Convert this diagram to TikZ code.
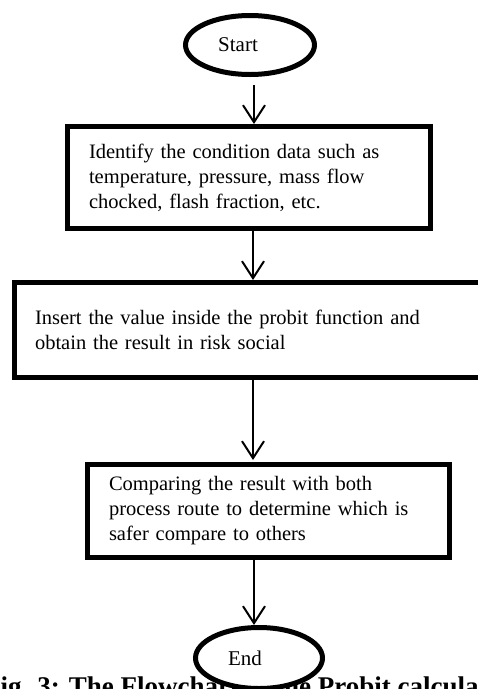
\documentclass[tikz,border=0pt]{standalone}
\usepackage{fontspec}
\setmainfont{Liberation Serif}
\usetikzlibrary{arrows.meta,shapes.geometric}
\begin{document}
\begin{tikzpicture}[x=1pt,y=-1pt,
 term/.style={ellipse, draw, line width=5pt, inner sep=0pt, fill=white, font=\fontsize{21}{25}\selectfont},
 procbox/.style={rectangle, draw, line width=5pt, align=left, inner ysep=0pt, font=\fontsize{20.5}{25}\selectfont},
 flow/.style={line width=2pt, -{Straight Barb[length=17pt,width=22pt,line width=2pt]}},
 captxt/.style={font=\fontsize{27}{32}\selectfont\bfseries, inner sep=0pt}]
\useasboundingbox (0,0) rectangle (478,689);
\clip (0,0) rectangle (478,689);
\node[captxt, anchor=base west] (cap) at (-16,695) {Fig. 3: The Flowchart of the Probit calculation};
\node[term, minimum width=129pt, minimum height=59pt] (start) at (250,45) {Start\kern24pt};
\node[procbox, inner xsep=21.5pt, text width=320pt, minimum height=102pt] (b1) at (249,177.5)
  {Identify the condition data such as\\ temperature, pressure, mass flow\\ chocked, flash fraction, etc.};
\node[procbox, inner xsep=20.5pt, text width=439pt, minimum height=94.5pt] (b2) at (254.5,329.75)
  {Insert the value inside the probit function and\\ obtain the result in risk social};
\node[procbox, inner xsep=21.5pt, text width=319pt, minimum height=93pt] (b3) at (268.5,511)
  {Comparing the result with both\\ process route to determine which is\\ safer compare to others};
\node[term, minimum width=127pt, minimum height=61pt] (end) at (259,658) {End\kern28pt};
\draw[flow, shorten <=8pt] ([xshift=4pt]start.south) -- ([xshift=5pt]b1.north);
\draw[flow] ([xshift=4pt]b1.south) -- ([xshift=-1.5pt]b2.north);
\draw[flow, shorten >=2pt] ([xshift=-1.5pt]b2.south) -- ([xshift=-15.5pt]b3.north);
\draw[flow] ([xshift=-14.5pt]b3.south) -- ([xshift=-5pt]end.north);
\end{tikzpicture}
\end{document}
